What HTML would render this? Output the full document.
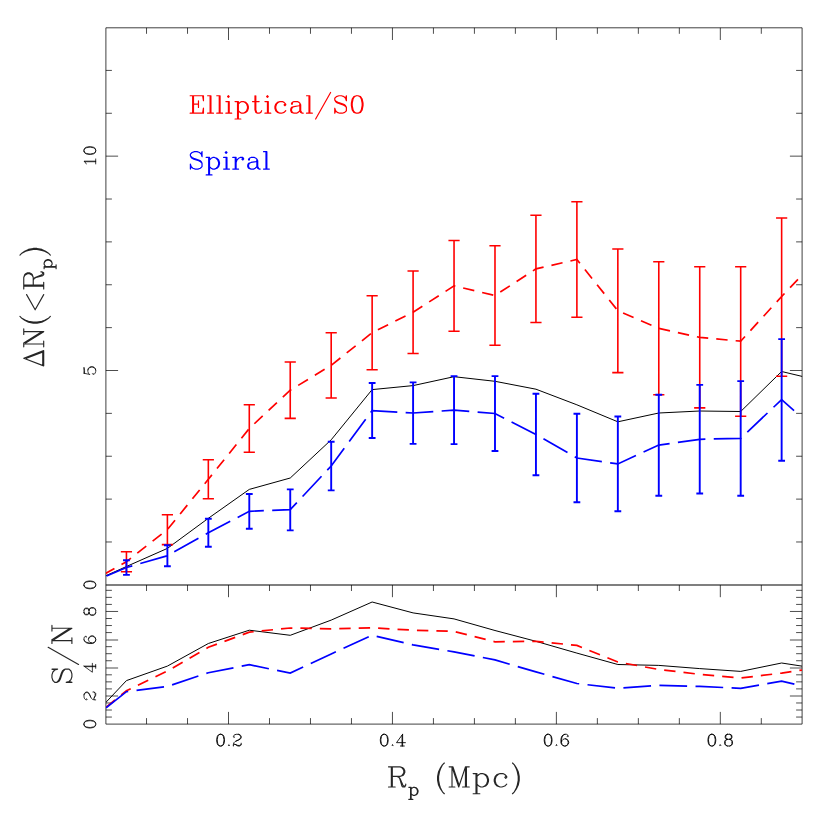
<!DOCTYPE html>
<html><head><meta charset="utf-8"><title>Chart</title><style>html,body{margin:0;padding:0;background:#fff;font-family:"Liberation Sans",sans-serif}svg{display:block}</style></head><body>
<svg width="830" height="830" viewBox="0 0 830 830">
<rect width="830" height="830" fill="#fff"/>
<defs><clipPath id="c1"><rect x="105.9" y="27.8" width="696.2" height="557.2"/></clipPath><clipPath id="c2"><rect x="105.9" y="585" width="696.2" height="139.1"/></clipPath></defs>
<g fill="none" stroke="#000" stroke-width="0.75" stroke-linejoin="round">
<rect x="105.9" y="27.8" width="696.2" height="696.3"/>
<path d="M105.9 585H802.1" stroke-width="1.1"/>
</g>
<path d="M146.53 27.8v6M146.53 585v6M146.53 724.1v-6M187.52 27.8v6M187.52 585v6M187.52 724.1v-6M228.5 27.8v12.2M228.5 585v12.2M228.5 724.1v-12.2M269.49 27.8v6M269.49 585v6M269.49 724.1v-6M310.47 27.8v6M310.47 585v6M310.47 724.1v-6M351.46 27.8v6M351.46 585v6M351.46 724.1v-6M392.44 27.8v12.2M392.44 585v12.2M392.44 724.1v-12.2M433.43 27.8v6M433.43 585v6M433.43 724.1v-6M474.41 27.8v6M474.41 585v6M474.41 724.1v-6M515.39 27.8v6M515.39 585v6M515.39 724.1v-6M556.38 27.8v12.2M556.38 585v12.2M556.38 724.1v-12.2M597.37 27.8v6M597.37 585v6M597.37 724.1v-6M638.35 27.8v6M638.35 585v6M638.35 724.1v-6M679.34 27.8v6M679.34 585v6M679.34 724.1v-6M720.32 27.8v12.2M720.32 585v12.2M720.32 724.1v-12.2M761.31 27.8v6M761.31 585v6M761.31 724.1v-6M105.9 541.98h6M802.1 541.98h-6M105.9 499.11h6M802.1 499.11h-6M105.9 456.24h6M802.1 456.24h-6M105.9 413.37h6M802.1 413.37h-6M105.9 370.5h12.2M802.1 370.5h-12.2M105.9 327.63h6M802.1 327.63h-6M105.9 284.76h6M802.1 284.76h-6M105.9 241.89h6M802.1 241.89h-6M105.9 199.02h6M802.1 199.02h-6M105.9 156.15h12.2M802.1 156.15h-12.2M105.9 113.28h6M802.1 113.28h-6M105.9 70.41h6M802.1 70.41h-6M105.9 717.06h6M802.1 717.06h-6M105.9 710.02h6M802.1 710.02h-6M105.9 702.98h6M802.1 702.98h-6M105.9 688.9h6M802.1 688.9h-6M105.9 681.86h6M802.1 681.86h-6M105.9 674.82h6M802.1 674.82h-6M105.9 660.74h6M802.1 660.74h-6M105.9 653.7h6M802.1 653.7h-6M105.9 646.66h6M802.1 646.66h-6M105.9 632.58h6M802.1 632.58h-6M105.9 625.54h6M802.1 625.54h-6M105.9 618.5h6M802.1 618.5h-6M105.9 611.46h12.2M802.1 611.46h-12.2M105.9 604.42h6M802.1 604.42h-6M105.9 597.38h6M802.1 597.38h-6M105.9 590.34h6M802.1 590.34h-6" fill="none" stroke="#000" stroke-width="0.7"/>
<path d="M105.9 696h12.2M802.1 696h-12.2M105.9 668h12.2M802.1 668h-12.2M105.9 640h12.2M802.1 640h-12.2" fill="none" stroke="#000" stroke-width="0.7"/>
<g clip-path="url(#c1)" fill="none">
<path d="M85.49 584.85 L126.44 566.5 L167.39 548.4 L208.34 518.3 L249.29 489.4 L290.24 478 L331.19 439.8 L372.14 389.6 L413.09 385.6 L454.04 376.7 L494.99 381.3 L535.94 389.2 L576.89 404.8 L617.84 421.8 L658.79 413 L699.74 411 L740.69 411.5 L781.64 371.5 L822.59 381.3" stroke="#000" stroke-width="1.0"/>
<path d="M85.49 584.85 L126.44 561.7 L167.39 529.6 L208.34 479.3 L249.29 428.5 L290.24 390.2 L331.19 365.3 L372.14 332.7 L413.09 312.2 L454.04 285.9 L494.99 295.5 L535.94 268.9 L576.89 259.5 L617.84 310.7 L658.79 328.4 L699.74 337.4 L740.69 341.2 L781.64 296.5 L822.59 253.5" stroke="#f00" stroke-width="1.7" stroke-dasharray="11.4 8.08" stroke-dashoffset="17.1"/>
<path d="M85.49 584.85 L126.44 567.5 L167.39 555.7 L208.34 532.8 L249.29 511.3 L290.24 509.6 L331.19 466 L372.14 410.6 L413.09 413 L454.04 410.1 L494.99 413.5 L535.94 434.5 L576.89 458 L617.84 463.9 L658.79 445.1 L699.74 439.3 L740.69 438.3 L781.64 399.6 L795 411.35" stroke="#00f" stroke-width="1.7" stroke-dasharray="27.7 8.37" stroke-dashoffset="13.24"/>
<path d="M126.44 551.8V571.8M120.84 551.8H132.04M120.84 571.8H132.04M167.39 514.7V544.6M161.79 514.7H172.99M161.79 544.6H172.99M208.34 459.8V498.8M202.74 459.8H213.94M202.74 498.8H213.94M249.29 404.7V452.3M243.69 404.7H254.89M243.69 452.3H254.89M290.24 362V418.4M284.64 362H295.84M284.64 418.4H295.84M331.19 332.8V398M325.59 332.8H336.79M325.59 398H336.79M372.14 295.7V369.8M366.54 295.7H377.74M366.54 369.8H377.74M413.09 271V353.5M407.49 271H418.69M407.49 353.5H418.69M454.04 240.5V331.2M448.44 240.5H459.64M448.44 331.2H459.64M494.99 245.7V345.3M489.39 245.7H500.59M489.39 345.3H500.59M535.94 215.2V322.5M530.34 215.2H541.54M530.34 322.5H541.54M576.89 201.7V317.3M571.29 201.7H582.49M571.29 317.3H582.49M617.84 249V372.6M612.24 249H623.44M612.24 372.6H623.44M658.79 261.8V394.7M653.19 261.8H664.39M653.19 394.7H664.39M699.74 266.8V407.9M694.14 266.8H705.34M694.14 407.9H705.34M740.69 266.8V416.3M735.09 266.8H746.29M735.09 416.3H746.29M781.64 218V376.2M776.04 218H787.24M776.04 376.2H787.24" stroke="#f00" stroke-width="1.6"/>
<path d="M126.44 560.2V574.9M123.04 560.2H129.84M123.04 574.9H129.84M167.39 545.3V566.3M163.99 545.3H170.79M163.99 566.3H170.79M208.34 518.8V546.7M204.94 518.8H211.74M204.94 546.7H211.74M249.29 494V528.7M245.89 494H252.69M245.89 528.7H252.69M290.24 489.4V530.4M286.84 489.4H293.64M286.84 530.4H293.64M331.19 441.7V490.4M327.79 441.7H334.59M327.79 490.4H334.59M372.14 383V438M368.74 383H375.54M368.74 438H375.54M413.09 382.4V443.9M409.69 382.4H416.49M409.69 443.9H416.49M454.04 376.1V444.1M450.64 376.1H457.44M450.64 444.1H457.44M494.99 376.1V451M491.59 376.1H498.39M491.59 451H498.39M535.94 393.8V475.2M532.54 393.8H539.34M532.54 475.2H539.34M576.89 413.8V502.3M573.49 413.8H580.29M573.49 502.3H580.29M617.84 416.5V511.2M614.44 416.5H621.24M614.44 511.2H621.24M658.79 394.8V495.7M655.39 394.8H662.19M655.39 495.7H662.19M699.74 384.9V493.5M696.34 384.9H703.14M696.34 493.5H703.14M740.69 381.1V495.7M737.29 381.1H744.09M737.29 495.7H744.09M781.64 339.1V460.8M778.24 339.1H785.04M778.24 460.8H785.04" stroke="#00f" stroke-width="1.9"/>
</g>
<g clip-path="url(#c2)" fill="none">
<path d="M85.49 724 L126.44 680.6 L167.39 666.1 L208.34 643.5 L249.29 630.2 L290.24 635.3 L331.19 620.1 L372.14 602 L413.09 612.9 L454.04 618.9 L494.99 630.5 L535.94 641.3 L576.89 653.1 L617.84 664.5 L658.79 665.4 L699.74 668.6 L740.69 671.4 L781.64 663 L822.59 669.3" stroke="#000" stroke-width="1.0"/>
<path d="M85.49 724 L126.44 690.7 L167.39 671 L208.34 647.3 L249.29 632.2 L290.24 628 L331.19 628.8 L372.14 627.8 L413.09 630.2 L454.04 631.4 L494.99 641.8 L535.94 641.3 L576.89 645.4 L617.84 662 L658.79 669.5 L699.74 674.3 L740.69 678 L781.64 673.1 L822.59 666.9" stroke="#f00" stroke-width="1.7" stroke-dasharray="11.4 8.04" stroke-dashoffset="12.22"/>
<path d="M85.49 724 L126.44 691.7 L167.39 686.4 L208.34 672.7 L249.29 664.7 L290.24 673.1 L331.19 653.9 L372.14 635.3 L413.09 644.9 L454.04 651.9 L494.99 659.9 L535.94 671.9 L576.89 683.5 L617.84 688.2 L658.79 685.4 L699.74 686.4 L740.69 688.3 L781.64 681.1 L822.59 691" stroke="#00f" stroke-width="1.7" stroke-dasharray="27.7 8.4" stroke-dashoffset="9.88"/>
</g>
<path d="M192.66 95.75 L192.66 113.2M193.49 95.75 L193.49 113.2M198.47 100.73 L198.47 107.38M190.16 95.75 L203.46 95.75 L203.46 100.73 L202.63 95.75M193.49 104.06 L198.47 104.06M190.16 113.2 L203.46 113.2 L203.46 108.21 L202.63 113.2M210.11 95.75 L210.11 113.2M210.94 95.75 L210.94 113.2M207.61 95.75 L210.94 95.75M207.61 113.2 L213.43 113.2M219.25 95.75 L219.25 113.2M220.08 95.75 L220.08 113.2M216.75 95.75 L220.08 95.75M216.75 113.2 L222.57 113.2M228.39 95.75 L227.56 96.58 L228.39 97.41 L229.22 96.58 L228.39 95.75M228.39 101.57 L228.39 113.2M229.22 101.57 L229.22 113.2M225.89 101.57 L229.22 101.57M225.89 113.2 L231.71 113.2M237.53 101.57 L237.53 119.02M238.36 101.57 L238.36 119.02M238.36 104.06 L240.02 102.4 L241.68 101.57 L243.35 101.57 L245.84 102.4 L247.5 104.06 L248.33 106.55 L248.33 108.21 L247.5 110.71 L245.84 112.37 L243.35 113.2 L241.68 113.2 L240.02 112.37 L238.36 110.71M243.35 101.57 L245.01 102.4 L246.67 104.06 L247.5 106.55 L247.5 108.21 L246.67 110.71 L245.01 112.37 L243.35 113.2M235.04 101.57 L238.36 101.57M235.04 119.02 L240.85 119.02M254.98 95.75 L254.98 109.88 L255.81 112.37 L257.47 113.2 L259.13 113.2 L260.8 112.37 L261.63 110.71M255.81 95.75 L255.81 109.88 L256.64 112.37 L257.47 113.2M252.49 101.57 L259.13 101.57M267.44 95.75 L266.61 96.58 L267.44 97.41 L268.28 96.58 L267.44 95.75M267.44 101.57 L267.44 113.2M268.28 101.57 L268.28 113.2M264.95 101.57 L268.28 101.57M264.95 113.2 L270.77 113.2M284.9 104.06 L284.06 104.89 L284.9 105.72 L285.73 104.89 L285.73 104.06 L284.06 102.4 L282.4 101.57 L279.91 101.57 L277.42 102.4 L275.75 104.06 L274.92 106.55 L274.92 108.21 L275.75 110.71 L277.42 112.37 L279.91 113.2 L281.57 113.2 L284.06 112.37 L285.73 110.71M279.91 101.57 L278.25 102.4 L276.59 104.06 L275.75 106.55 L275.75 108.21 L276.59 110.71 L278.25 112.37 L279.91 113.2M292.38 103.23 L292.38 104.06 L291.54 104.06 L291.54 103.23 L292.38 102.4 L294.04 101.57 L297.36 101.57 L299.02 102.4 L299.85 103.23 L300.69 104.89 L300.69 110.71 L301.52 112.37 L302.35 113.2M299.85 103.23 L299.85 110.71 L300.69 112.37 L302.35 113.2 L303.18 113.2M299.85 104.89 L299.02 105.72 L294.04 106.55 L291.54 107.38 L290.71 109.05 L290.71 110.71 L291.54 112.37 L294.04 113.2 L296.53 113.2 L298.19 112.37 L299.85 110.71M294.04 106.55 L292.38 107.38 L291.54 109.05 L291.54 110.71 L292.38 112.37 L294.04 113.2M309 95.75 L309 113.2M309.83 95.75 L309.83 113.2M306.5 95.75 L309.83 95.75M306.5 113.2 L312.32 113.2M330.6 92.43 L315.64 119.02M345.56 98.24 L346.39 95.75 L346.39 100.73 L345.56 98.24 L343.9 96.58 L341.4 95.75 L338.91 95.75 L336.42 96.58 L334.76 98.24 L334.76 99.9 L335.59 101.57 L336.42 102.4 L338.08 103.23 L343.07 104.89 L344.73 105.72 L346.39 107.38M334.76 99.9 L336.42 101.57 L338.08 102.4 L343.07 104.06 L344.73 104.89 L345.56 105.72 L346.39 107.38 L346.39 110.71 L344.73 112.37 L342.24 113.2 L339.74 113.2 L337.25 112.37 L335.59 110.71 L334.76 108.21 L334.76 113.2 L335.59 110.71M356.36 95.75 L353.87 96.58 L352.21 99.07 L351.38 103.23 L351.38 105.72 L352.21 109.88 L353.87 112.37 L356.36 113.2 L358.02 113.2 L360.52 112.37 L362.18 109.88 L363.01 105.72 L363.01 103.23 L362.18 99.07 L360.52 96.58 L358.02 95.75 L356.36 95.75M356.36 95.75 L354.7 96.58 L353.87 97.41 L353.04 99.07 L352.21 103.23 L352.21 105.72 L353.04 109.88 L353.87 111.54 L354.7 112.37 L356.36 113.2M358.02 113.2 L359.69 112.37 L360.52 111.54 L361.35 109.88 L362.18 105.72 L362.18 103.23 L361.35 99.07 L360.52 97.41 L359.69 96.58 L358.02 95.75" fill="none" stroke="#f00" stroke-width="1.2" stroke-opacity="1" stroke-linecap="round" stroke-linejoin="round"/>
<path d="M201.2 154.14 L202.03 151.65 L202.03 156.63 L201.2 154.14 L199.53 152.48 L197.04 151.65 L194.55 151.65 L192.06 152.48 L190.39 154.14 L190.39 155.8 L191.22 157.47 L192.06 158.3 L193.72 159.13 L198.7 160.79 L200.37 161.62 L202.03 163.28M190.39 155.8 L192.06 157.47 L193.72 158.3 L198.7 159.96 L200.37 160.79 L201.2 161.62 L202.03 163.28 L202.03 166.61 L200.37 168.27 L197.87 169.1 L195.38 169.1 L192.89 168.27 L191.22 166.61 L190.39 164.11 L190.39 169.1 L191.22 166.61M208.68 157.47 L208.68 174.92M209.51 157.47 L209.51 174.92M209.51 159.96 L211.17 158.3 L212.83 157.47 L214.49 157.47 L216.99 158.3 L218.65 159.96 L219.48 162.45 L219.48 164.11 L218.65 166.61 L216.99 168.27 L214.49 169.1 L212.83 169.1 L211.17 168.27 L209.51 166.61M214.49 157.47 L216.15 158.3 L217.82 159.96 L218.65 162.45 L218.65 164.11 L217.82 166.61 L216.15 168.27 L214.49 169.1M206.18 157.47 L209.51 157.47M206.18 174.92 L212 174.92M226.13 151.65 L225.3 152.48 L226.13 153.31 L226.96 152.48 L226.13 151.65M226.13 157.47 L226.13 169.1M226.96 157.47 L226.96 169.1M223.63 157.47 L226.96 157.47M223.63 169.1 L229.45 169.1M235.27 157.47 L235.27 169.1M236.1 157.47 L236.1 169.1M236.1 162.45 L236.93 159.96 L238.59 158.3 L240.25 157.47 L242.75 157.47 L243.58 158.3 L243.58 159.13 L242.75 159.96 L241.91 159.13 L242.75 158.3M232.77 157.47 L236.1 157.47M232.77 169.1 L238.59 169.1M249.39 159.13 L249.39 159.96 L248.56 159.96 L248.56 159.13 L249.39 158.3 L251.06 157.47 L254.38 157.47 L256.04 158.3 L256.87 159.13 L257.7 160.79 L257.7 166.61 L258.53 168.27 L259.37 169.1M256.87 159.13 L256.87 166.61 L257.7 168.27 L259.37 169.1 L260.2 169.1M256.87 160.79 L256.04 161.62 L251.06 162.45 L248.56 163.28 L247.73 164.94 L247.73 166.61 L248.56 168.27 L251.06 169.1 L253.55 169.1 L255.21 168.27 L256.87 166.61M251.06 162.45 L249.39 163.28 L248.56 164.94 L248.56 166.61 L249.39 168.27 L251.06 169.1M266.01 151.65 L266.01 169.1M266.85 151.65 L266.85 169.1M263.52 151.65 L266.85 151.65M263.52 169.1 L269.34 169.1" fill="none" stroke="#00f" stroke-width="1.2" stroke-opacity="1" stroke-linecap="round" stroke-linejoin="round"/>
<path d="M391.35 766.84 L391.35 787M392.31 766.84 L392.31 787M388.47 766.84 L399.99 766.84 L402.87 767.8 L403.83 768.76 L404.79 770.68 L404.79 772.6 L403.83 774.52 L402.87 775.48 L399.99 776.44 L392.31 776.44M399.99 766.84 L401.91 767.8 L402.87 768.76 L403.83 770.68 L403.83 772.6 L402.87 774.52 L401.91 775.48 L399.99 776.44M388.47 787 L395.19 787M397.11 776.44 L399.03 777.4 L399.99 778.36 L402.87 785.08 L403.83 786.04 L404.79 786.04 L405.75 785.08M399.03 777.4 L399.99 779.32 L401.91 786.04 L402.87 787 L404.79 787 L405.75 785.08 L405.75 784.12M410.55 787.34 L410.55 799.43M411.13 787.34 L411.13 799.43M411.13 789.06 L412.28 787.91 L413.43 787.34 L414.58 787.34 L416.31 787.91 L417.46 789.06 L418.04 790.79 L418.04 791.94 L417.46 793.67 L416.31 794.82 L414.58 795.4 L413.43 795.4 L412.28 794.82 L411.13 793.67M414.58 787.34 L415.74 787.91 L416.89 789.06 L417.46 790.79 L417.46 791.94 L416.89 793.67 L415.74 794.82 L414.58 795.4M408.82 787.34 L411.13 787.34M408.82 799.43 L412.86 799.43M444.33 763 L442.41 764.92 L440.49 767.8 L438.57 771.64 L437.61 776.44 L437.61 780.28 L438.57 785.08 L440.49 788.92 L442.41 791.8 L444.33 793.72M442.41 764.92 L440.49 768.76 L439.53 771.64 L438.57 776.44 L438.57 780.28 L439.53 785.08 L440.49 787.96 L442.41 791.8M452.01 766.84 L452.01 787M452.97 766.84 L458.73 784.12M452.01 766.84 L458.73 787M465.45 766.84 L458.73 787M465.45 766.84 L465.45 787M466.41 766.84 L466.41 787M449.13 766.84 L452.97 766.84M465.45 766.84 L469.29 766.84M449.13 787 L454.89 787M462.57 787 L469.29 787M476.01 773.56 L476.01 793.72M476.97 773.56 L476.97 793.72M476.97 776.44 L478.89 774.52 L480.81 773.56 L482.73 773.56 L485.61 774.52 L487.53 776.44 L488.49 779.32 L488.49 781.24 L487.53 784.12 L485.61 786.04 L482.73 787 L480.81 787 L478.89 786.04 L476.97 784.12M482.73 773.56 L484.65 774.52 L486.57 776.44 L487.53 779.32 L487.53 781.24 L486.57 784.12 L484.65 786.04 L482.73 787M473.13 773.56 L476.97 773.56M473.13 793.72 L479.85 793.72M505.77 776.44 L504.81 777.4 L505.77 778.36 L506.73 777.4 L506.73 776.44 L504.81 774.52 L502.89 773.56 L500.01 773.56 L497.13 774.52 L495.21 776.44 L494.25 779.32 L494.25 781.24 L495.21 784.12 L497.13 786.04 L500.01 787 L501.93 787 L504.81 786.04 L506.73 784.12M500.01 773.56 L498.09 774.52 L496.17 776.44 L495.21 779.32 L495.21 781.24 L496.17 784.12 L498.09 786.04 L500.01 787M512.49 763 L514.41 764.92 L516.33 767.8 L518.25 771.64 L519.21 776.44 L519.21 780.28 L518.25 785.08 L516.33 788.92 L514.41 791.8 L512.49 793.72M514.41 764.92 L516.33 768.76 L517.29 771.64 L518.25 776.44 L518.25 780.28 L517.29 785.08 L516.33 787.96 L514.41 791.8" fill="none" stroke="#000" stroke-width="1.15" stroke-opacity="0.85" stroke-linecap="round" stroke-linejoin="round"/>
<path d="M23.75 358.26 L43.7 365.86M23.75 358.26 L43.7 350.66M26.6 358.26 L43.7 351.61M42.75 364.91 L42.75 351.61M43.7 365.86 L43.7 350.66M23.75 344.01 L43.7 344.01M23.75 343.06 L41.8 331.66M25.65 343.06 L43.7 331.66M23.75 331.66 L43.7 331.66M23.75 346.86 L23.75 343.06M23.75 334.51 L23.75 328.81M43.7 346.86 L43.7 341.16M19.95 316.46 L21.85 318.36 L24.7 320.26 L28.5 322.16 L33.25 323.11 L37.05 323.11 L41.8 322.16 L45.6 320.26 L48.45 318.36 L50.35 316.46M21.85 318.36 L25.65 320.26 L28.5 321.21 L33.25 322.16 L37.05 322.16 L41.8 321.21 L44.65 320.26 L48.45 318.36M26.6 294.61 L35.15 309.81 L43.7 294.61M23.75 286.06 L43.7 286.06M23.75 285.11 L43.7 285.11M23.75 288.91 L23.75 277.51 L24.7 274.66 L25.65 273.71 L27.55 272.76 L29.45 272.76 L31.35 273.71 L32.3 274.66 L33.25 277.51 L33.25 285.11M23.75 277.51 L24.7 275.61 L25.65 274.66 L27.55 273.71 L29.45 273.71 L31.35 274.66 L32.3 275.61 L33.25 277.51M43.7 288.91 L43.7 282.26M33.25 280.36 L34.2 278.46 L35.15 277.51 L41.8 274.66 L42.75 273.71 L42.75 272.76 L41.8 271.81M34.2 278.46 L36.1 277.51 L42.75 275.61 L43.7 274.66 L43.7 272.76 L41.8 271.81 L40.85 271.81M44.12 267.06 L56.09 267.06M44.12 266.49 L56.09 266.49M45.83 266.49 L44.69 265.35 L44.12 264.21 L44.12 263.07 L44.69 261.36 L45.83 260.22 L47.54 259.65 L48.68 259.65 L50.39 260.22 L51.53 261.36 L52.1 263.07 L52.1 264.21 L51.53 265.35 L50.39 266.49M44.12 263.07 L44.69 261.93 L45.83 260.79 L47.54 260.22 L48.68 260.22 L50.39 260.79 L51.53 261.93 L52.1 263.07M44.12 268.77 L44.12 266.49M56.09 268.77 L56.09 264.78M19.95 255.09 L21.85 253.19 L24.7 251.29 L28.5 249.39 L33.25 248.44 L37.05 248.44 L41.8 249.39 L45.6 251.29 L48.45 253.19 L50.35 255.09M21.85 253.19 L25.65 251.29 L28.5 250.34 L33.25 249.39 L37.05 249.39 L41.8 250.34 L44.65 251.29 L48.45 253.19" fill="none" stroke="#000" stroke-width="1.15" stroke-opacity="0.85" stroke-linecap="round" stroke-linejoin="round"/>
<path d="M54.8 670.07 L51.95 669.12 L57.65 669.12 L54.8 670.07 L52.9 671.98 L51.95 674.82 L51.95 677.67 L52.9 680.52 L54.8 682.42 L56.7 682.42 L58.6 681.48 L59.55 680.52 L60.5 678.62 L62.4 672.92 L63.35 671.02 L65.25 669.12M56.7 682.42 L58.6 680.52 L59.55 678.62 L61.45 672.92 L62.4 671.02 L63.35 670.07 L65.25 669.12 L69.05 669.12 L70.95 671.02 L71.9 673.88 L71.9 676.73 L70.95 679.57 L69.05 681.48 L66.2 682.42 L71.9 682.42 L69.05 681.48M48.15 647.27 L78.55 664.38M51.95 640.62 L71.9 640.62M51.95 639.67 L70 628.27M53.85 639.67 L71.9 628.27M51.95 628.27 L71.9 628.27M51.95 643.48 L51.95 639.67M51.95 631.12 L51.95 625.42M71.9 643.48 L71.9 637.77" fill="none" stroke="#000" stroke-width="1.15" stroke-opacity="0.85" stroke-linecap="round" stroke-linejoin="round"/>
<path d="M220.04 734.3 L218.37 734.86 L217.25 736.53 L216.7 739.32 L216.7 740.99 L217.25 743.77 L218.37 745.44 L220.04 746 L221.15 746 L222.82 745.44 L223.94 743.77 L224.49 740.99 L224.49 739.32 L223.94 736.53 L222.82 734.86 L221.15 734.3 L220.04 734.3M220.04 734.3 L218.92 734.86 L218.37 735.42 L217.81 736.53 L217.25 739.32 L217.25 740.99 L217.81 743.77 L218.37 744.89 L218.92 745.44 L220.04 746M221.15 746 L222.27 745.44 L222.82 744.89 L223.38 743.77 L223.94 740.99 L223.94 739.32 L223.38 736.53 L222.82 735.42 L222.27 734.86 L221.15 734.3M228.95 744.89 L228.39 745.44 L228.95 746 L229.51 745.44 L228.95 744.89M233.96 736.53 L234.52 737.09 L233.96 737.64 L233.41 737.09 L233.41 736.53 L233.96 735.42 L234.52 734.86 L236.19 734.3 L238.42 734.3 L240.09 734.86 L240.65 735.42 L241.2 736.53 L241.2 737.64 L240.65 738.76 L238.98 739.87 L236.19 740.99 L235.08 741.54 L233.96 742.66 L233.41 744.33 L233.41 746M238.42 734.3 L239.53 734.86 L240.09 735.42 L240.65 736.53 L240.65 737.64 L240.09 738.76 L238.42 739.87 L236.19 740.99M233.41 744.89 L233.96 744.33 L235.08 744.33 L237.86 745.44 L239.53 745.44 L240.65 744.89 L241.2 744.33M235.08 744.33 L237.86 746 L240.09 746 L240.65 745.44 L241.2 744.33 L241.2 743.22" fill="none" stroke="#000" stroke-width="1.0" stroke-opacity="0.88" stroke-linecap="round" stroke-linejoin="round"/>
<path d="M383.68 734.3 L382.01 734.86 L380.89 736.53 L380.34 739.32 L380.34 740.99 L380.89 743.77 L382.01 745.44 L383.68 746 L384.79 746 L386.46 745.44 L387.58 743.77 L388.13 740.99 L388.13 739.32 L387.58 736.53 L386.46 734.86 L384.79 734.3 L383.68 734.3M383.68 734.3 L382.56 734.86 L382.01 735.42 L381.45 736.53 L380.89 739.32 L380.89 740.99 L381.45 743.77 L382.01 744.89 L382.56 745.44 L383.68 746M384.79 746 L385.91 745.44 L386.46 744.89 L387.02 743.77 L387.58 740.99 L387.58 739.32 L387.02 736.53 L386.46 735.42 L385.91 734.86 L384.79 734.3M392.59 744.89 L392.03 745.44 L392.59 746 L393.15 745.44 L392.59 744.89M402.06 735.42 L402.06 746M402.62 734.3 L402.62 746M402.62 734.3 L396.49 742.66 L405.4 742.66M400.39 746 L404.29 746" fill="none" stroke="#000" stroke-width="1.0" stroke-opacity="0.88" stroke-linecap="round" stroke-linejoin="round"/>
<path d="M547.57 734.3 L545.9 734.86 L544.78 736.53 L544.23 739.32 L544.23 740.99 L544.78 743.77 L545.9 745.44 L547.57 746 L548.68 746 L550.35 745.44 L551.47 743.77 L552.02 740.99 L552.02 739.32 L551.47 736.53 L550.35 734.86 L548.68 734.3 L547.57 734.3M547.57 734.3 L546.45 734.86 L545.9 735.42 L545.34 736.53 L544.78 739.32 L544.78 740.99 L545.34 743.77 L545.9 744.89 L546.45 745.44 L547.57 746M548.68 746 L549.8 745.44 L550.35 744.89 L550.91 743.77 L551.47 740.99 L551.47 739.32 L550.91 736.53 L550.35 735.42 L549.8 734.86 L548.68 734.3M556.48 744.89 L555.92 745.44 L556.48 746 L557.04 745.44 L556.48 744.89M567.62 735.97 L567.06 736.53 L567.62 737.09 L568.18 736.53 L568.18 735.97 L567.62 734.86 L566.51 734.3 L564.84 734.3 L563.16 734.86 L562.05 735.97 L561.49 737.09 L560.94 739.32 L560.94 742.66 L561.49 744.33 L562.61 745.44 L564.28 746 L565.39 746 L567.06 745.44 L568.18 744.33 L568.73 742.66 L568.73 742.1 L568.18 740.43 L567.06 739.32 L565.39 738.76 L564.84 738.76 L563.16 739.32 L562.05 740.43 L561.49 742.1M564.84 734.3 L563.72 734.86 L562.61 735.97 L562.05 737.09 L561.49 739.32 L561.49 742.66 L562.05 744.33 L563.16 745.44 L564.28 746M565.39 746 L566.51 745.44 L567.62 744.33 L568.18 742.66 L568.18 742.1 L567.62 740.43 L566.51 739.32 L565.39 738.76" fill="none" stroke="#000" stroke-width="1.0" stroke-opacity="0.88" stroke-linecap="round" stroke-linejoin="round"/>
<path d="M711.31 734.3 L709.64 734.86 L708.52 736.53 L707.97 739.32 L707.97 740.99 L708.52 743.77 L709.64 745.44 L711.31 746 L712.42 746 L714.09 745.44 L715.21 743.77 L715.76 740.99 L715.76 739.32 L715.21 736.53 L714.09 734.86 L712.42 734.3 L711.31 734.3M711.31 734.3 L710.19 734.86 L709.64 735.42 L709.08 736.53 L708.52 739.32 L708.52 740.99 L709.08 743.77 L709.64 744.89 L710.19 745.44 L711.31 746M712.42 746 L713.54 745.44 L714.09 744.89 L714.65 743.77 L715.21 740.99 L715.21 739.32 L714.65 736.53 L714.09 735.42 L713.54 734.86 L712.42 734.3M720.22 744.89 L719.66 745.44 L720.22 746 L720.78 745.44 L720.22 744.89M727.46 734.3 L725.79 734.86 L725.23 735.97 L725.23 737.64 L725.79 738.76 L727.46 739.32 L729.69 739.32 L731.36 738.76 L731.92 737.64 L731.92 735.97 L731.36 734.86 L729.69 734.3 L727.46 734.3M727.46 734.3 L726.35 734.86 L725.79 735.97 L725.79 737.64 L726.35 738.76 L727.46 739.32M729.69 739.32 L730.8 738.76 L731.36 737.64 L731.36 735.97 L730.8 734.86 L729.69 734.3M727.46 739.32 L725.79 739.87 L725.23 740.43 L724.68 741.54 L724.68 743.77 L725.23 744.89 L725.79 745.44 L727.46 746 L729.69 746 L731.36 745.44 L731.92 744.89 L732.47 743.77 L732.47 741.54 L731.92 740.43 L731.36 739.87 L729.69 739.32M727.46 739.32 L726.35 739.87 L725.79 740.43 L725.23 741.54 L725.23 743.77 L725.79 744.89 L726.35 745.44 L727.46 746M729.69 746 L730.8 745.44 L731.36 744.89 L731.92 743.77 L731.92 741.54 L731.36 740.43 L730.8 739.87 L729.69 739.32" fill="none" stroke="#000" stroke-width="1.0" stroke-opacity="0.88" stroke-linecap="round" stroke-linejoin="round"/>
<path d="M84 373.29 L89.57 374.4M89.57 374.4 L88.46 373.29 L87.9 371.61 L87.9 369.94 L88.46 368.27 L89.57 367.16 L91.24 366.6 L92.36 366.6 L94.03 367.16 L95.14 368.27 L95.7 369.94 L95.7 371.61 L95.14 373.29 L94.59 373.84 L93.47 374.4 L92.92 374.4 L92.36 373.84 L92.92 373.29 L93.47 373.84M87.9 369.94 L88.46 368.83 L89.57 367.71 L91.24 367.16 L92.36 367.16 L94.03 367.71 L95.14 368.83 L95.7 369.94M84 373.29 L84 367.71M84.56 373.29 L84.56 370.5 L84 367.71" fill="none" stroke="#000" stroke-width="0.9" stroke-opacity="0.85" stroke-linecap="round" stroke-linejoin="round"/>
<path d="M86.23 163.95 L85.67 162.83 L84 161.16 L95.7 161.16M84.56 161.72 L95.7 161.72M95.7 163.95 L95.7 158.94M84 151.14 L84.56 152.81 L86.23 153.92 L89.02 154.48 L90.69 154.48 L93.47 153.92 L95.14 152.81 L95.7 151.14 L95.7 150.02 L95.14 148.35 L93.47 147.24 L90.69 146.68 L89.02 146.68 L86.23 147.24 L84.56 148.35 L84 150.02 L84 151.14M84 151.14 L84.56 152.25 L85.12 152.81 L86.23 153.37 L89.02 153.92 L90.69 153.92 L93.47 153.37 L94.59 152.81 L95.14 152.25 L95.7 151.14M95.7 150.02 L95.14 148.91 L94.59 148.35 L93.47 147.8 L90.69 147.24 L89.02 147.24 L86.23 147.8 L85.12 148.35 L84.56 148.91 L84 150.02" fill="none" stroke="#000" stroke-width="0.9" stroke-opacity="0.85" stroke-linecap="round" stroke-linejoin="round"/>
<path d="M84 724.66 L84.56 726.33 L86.23 727.44 L89.02 728 L90.69 728 L93.47 727.44 L95.14 726.33 L95.7 724.66 L95.7 723.54 L95.14 721.87 L93.47 720.76 L90.69 720.2 L89.02 720.2 L86.23 720.76 L84.56 721.87 L84 723.54 L84 724.66M84 724.66 L84.56 725.77 L85.12 726.33 L86.23 726.88 L89.02 727.44 L90.69 727.44 L93.47 726.88 L94.59 726.33 L95.14 725.77 L95.7 724.66M95.7 723.54 L95.14 722.43 L94.59 721.87 L93.47 721.32 L90.69 720.76 L89.02 720.76 L86.23 721.32 L85.12 721.87 L84.56 722.43 L84 723.54" fill="none" stroke="#000" stroke-width="0.9" stroke-opacity="0.85" stroke-linecap="round" stroke-linejoin="round"/>
<path d="M86.23 699.28 L86.79 698.73 L87.34 699.28 L86.79 699.84 L86.23 699.84 L85.12 699.28 L84.56 698.73 L84 697.05 L84 694.83 L84.56 693.16 L85.12 692.6 L86.23 692.04 L87.34 692.04 L88.46 692.6 L89.57 694.27 L90.69 697.05 L91.24 698.17 L92.36 699.28 L94.03 699.84 L95.7 699.84M84 694.83 L84.56 693.71 L85.12 693.16 L86.23 692.6 L87.34 692.6 L88.46 693.16 L89.57 694.83 L90.69 697.05M94.59 699.84 L94.03 699.28 L94.03 698.17 L95.14 695.38 L95.14 693.71 L94.59 692.6 L94.03 692.04M94.03 698.17 L95.7 695.38 L95.7 693.16 L95.14 692.6 L94.03 692.04 L92.92 692.04" fill="none" stroke="#000" stroke-width="0.9" stroke-opacity="0.85" stroke-linecap="round" stroke-linejoin="round"/>
<path d="M85.12 666.67 L95.7 666.67M84 666.11 L95.7 666.11M84 666.11 L92.36 672.24 L92.36 663.32M95.7 668.34 L95.7 664.44" fill="none" stroke="#000" stroke-width="0.9" stroke-opacity="0.85" stroke-linecap="round" stroke-linejoin="round"/>
<path d="M85.67 636.84 L86.23 637.39 L86.79 636.84 L86.23 636.28 L85.67 636.28 L84.56 636.84 L84 637.95 L84 639.62 L84.56 641.29 L85.67 642.4 L86.79 642.96 L89.02 643.52 L92.36 643.52 L94.03 642.96 L95.14 641.85 L95.7 640.18 L95.7 639.06 L95.14 637.39 L94.03 636.28 L92.36 635.72 L91.8 635.72 L90.13 636.28 L89.02 637.39 L88.46 639.06 L88.46 639.62 L89.02 641.29 L90.13 642.4 L91.8 642.96M84 639.62 L84.56 640.73 L85.67 641.85 L86.79 642.4 L89.02 642.96 L92.36 642.96 L94.03 642.4 L95.14 641.29 L95.7 640.18M95.7 639.06 L95.14 637.95 L94.03 636.84 L92.36 636.28 L91.8 636.28 L90.13 636.84 L89.02 637.95 L88.46 639.06" fill="none" stroke="#000" stroke-width="0.9" stroke-opacity="0.85" stroke-linecap="round" stroke-linejoin="round"/>
<path d="M84 612.57 L84.56 614.25 L85.67 614.8 L87.34 614.8 L88.46 614.25 L89.02 612.57 L89.02 610.35 L88.46 608.68 L87.34 608.12 L85.67 608.12 L84.56 608.68 L84 610.35 L84 612.57M84 612.57 L84.56 613.69 L85.67 614.25 L87.34 614.25 L88.46 613.69 L89.02 612.57M89.02 610.35 L88.46 609.23 L87.34 608.68 L85.67 608.68 L84.56 609.23 L84 610.35M89.02 612.57 L89.57 614.25 L90.13 614.8 L91.24 615.36 L93.47 615.36 L94.59 614.8 L95.14 614.25 L95.7 612.57 L95.7 610.35 L95.14 608.68 L94.59 608.12 L93.47 607.56 L91.24 607.56 L90.13 608.12 L89.57 608.68 L89.02 610.35M89.02 612.57 L89.57 613.69 L90.13 614.25 L91.24 614.8 L93.47 614.8 L94.59 614.25 L95.14 613.69 L95.7 612.57M95.7 610.35 L95.14 609.23 L94.59 608.68 L93.47 608.12 L91.24 608.12 L90.13 608.68 L89.57 609.23 L89.02 610.35" fill="none" stroke="#000" stroke-width="0.9" stroke-opacity="0.85" stroke-linecap="round" stroke-linejoin="round"/>
<path d="M84 585.41 L84.56 587.08 L86.23 588.19 L89.02 588.75 L90.69 588.75 L93.47 588.19 L95.14 587.08 L95.7 585.41 L95.7 584.29 L95.14 582.62 L93.47 581.51 L90.69 580.95 L89.02 580.95 L86.23 581.51 L84.56 582.62 L84 584.29 L84 585.41M84 585.41 L84.56 586.52 L85.12 587.08 L86.23 587.63 L89.02 588.19 L90.69 588.19 L93.47 587.63 L94.59 587.08 L95.14 586.52 L95.7 585.41M95.7 584.29 L95.14 583.18 L94.59 582.62 L93.47 582.07 L90.69 581.51 L89.02 581.51 L86.23 582.07 L85.12 582.62 L84.56 583.18 L84 584.29" fill="none" stroke="#000" stroke-width="0.9" stroke-opacity="0.85" stroke-linecap="round" stroke-linejoin="round"/>
</svg>
</body></html>
